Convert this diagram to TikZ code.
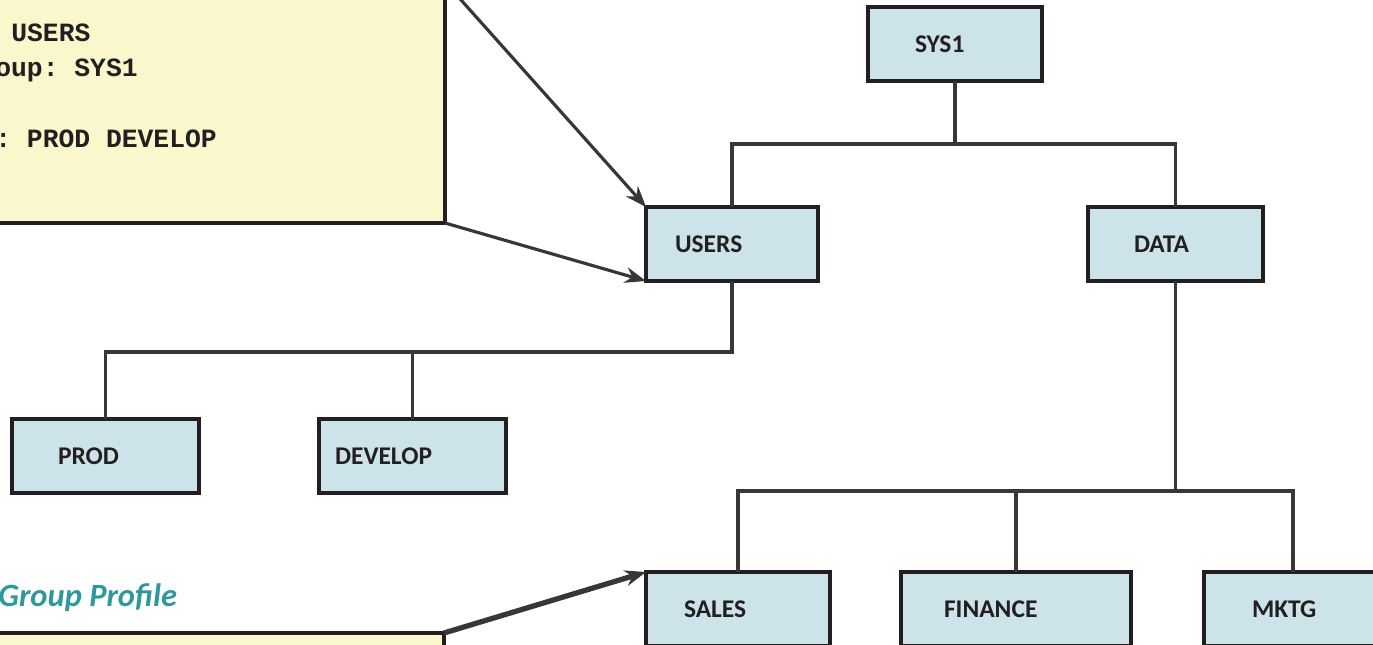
\documentclass[tikz,border=0pt]{standalone}
\usepackage{fontspec}
\setmainfont{Carlito}
\setmonofont{Liberation Mono}
\usepackage{xcolor}
\usetikzlibrary{arrows.meta}
\definecolor{boxblue}{RGB}{205,227,234}
\definecolor{noteyellow}{RGB}{250,247,205}
\definecolor{inkdark}{RGB}{35,31,32}
\definecolor{linegray}{RGB}{55,55,55}
\definecolor{titleteal}{RGB}{47,152,156}
\tikzstyle{group} = [rectangle, minimum height=1.48cm, align=left, draw=inkdark, fill=boxblue, line width=2pt, outer sep=0pt, text=inkdark, font=\fontsize{14.5}{17}\selectfont\bfseries]
\tikzstyle{note} = [rectangle, minimum width=9.6cm, draw=inkdark, fill=noteyellow, line width=2pt, outer sep=0pt]
\tikzstyle{field} = [anchor=base west, inner sep=0pt, text=inkdark, font=\ttfamily\bfseries\fontsize{15}{18}\selectfont]
\tikzstyle{link} = [line width=1.8pt, draw=linegray]
\tikzstyle{arrow} = [line width=1.8pt, draw=linegray, ->, >={Stealth[length=12pt,width=9pt]}]

\begin{document}
\begin{tikzpicture}[x=0.02cm, y=-0.02cm]
\useasboundingbox (0,0) rectangle (1373,645);

% profile boxes on the left
\node (note1) [note, minimum height=4.82cm, anchor=south east] at (445,223) {};
\node (note2) [note, minimum height=1.2cm, anchor=north east] at (444,633) {};
\node (owner) [field] at (11,42) {USERS};
\node (superior) [field] at (-5,77) {oup: SYS1};
\node (subgroups) [field] at (-5,148) {: PROD DEVELOP};
\node (title) [anchor=base west, inner sep=0pt, text=titleteal, font=\fontsize{18.5}{20}\selectfont\bfseries\itshape] at (-2,606) {Group Profile};

% group tree
\node (sys1) [group, text width=1.6cm, inner xsep=0.94cm] at (955,44) {SYS1};
\node (users) [group, text width=2.28cm, inner xsep=0.58cm] at (732,244) {USERS};
\node (data) [group, text width=1.66cm, inner xsep=0.92cm] at (1175.5,244) {DATA};
\node (prod) [group, text width=1.9cm, inner xsep=0.92cm] at (105.5,456) {PROD};
\node (develop) [group, text width=3.1cm, inner xsep=0.32cm] at (412.5,456) {DEVELOP};
\node (sales) [group, text width=2.16cm, inner xsep=0.76cm] at (738,609) {SALES};
\node (finance) [group, text width=2.88cm, inner xsep=0.86cm] at (1016,609) {FINANCE};
\node (mktg) [group, text width=1.64cm, inner xsep=0.96cm] at (1293,609) {MKTG};

\coordinate (bus1) at (955,144);
\coordinate (bus2) at (732,352);
\coordinate (bus3) at (1175.5,491);

\draw [link] (sys1.south) -- (bus1);
\draw [link] (users.north) |- (bus1) -| (data.north);
\draw [link] (users.south) -- (bus2) -| (prod.north);
\draw [link] (develop.north) -- (develop.north |- bus2);
\draw [link] (data.south) -- (bus3);
\draw [link] (sales.north) |- (bus3) -| (mktg.north);
\draw [link] (finance.north) -- (finance.north |- bus3);

% pointers
\draw [arrow] (note1.north east) -- (users.north west);
\draw [arrow] (note1.south east) -- (users.south west);
\draw [arrow, line width=3pt] (note2.north east) -- (sales.north west);
\end{tikzpicture}
\end{document}
